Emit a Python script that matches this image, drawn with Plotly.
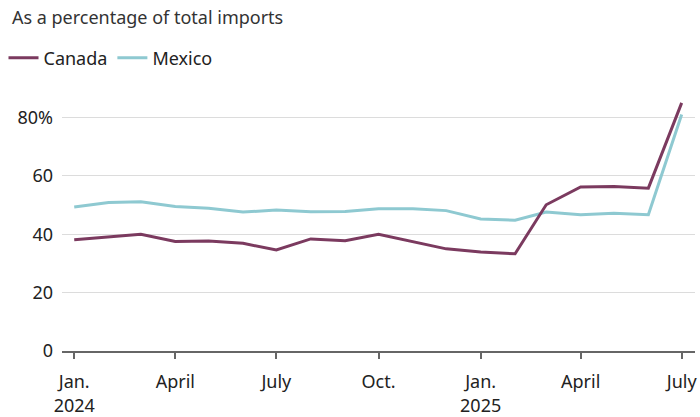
import plotly.graph_objects as go

months = ["2024-01-01","2024-02-01","2024-03-01","2024-04-01","2024-05-01","2024-06-01",
          "2024-07-01","2024-08-01","2024-09-01","2024-10-01","2024-11-01","2024-12-01",
          "2025-01-01","2025-02-01","2025-03-01","2025-04-01","2025-05-01","2025-06-01",
          "2025-07-01"]
canada = [38.1, 39.2, 40.0, 37.5, 37.7, 36.9, 34.6, 38.4, 37.8, 40.0, 37.5, 35.0,
          33.9, 33.3, 50.1, 56.2, 56.4, 55.8, 85.0]
mexico = [49.3, 50.9, 51.1, 49.5, 48.9, 47.6, 48.3, 47.7, 47.8, 48.7, 48.7, 48.1,
          45.2, 44.8, 47.6, 46.7, 47.2, 46.7, 81.0]

xtick_vals = ["2024-01-01","2024-04-01","2024-07-01","2024-10-01","2025-01-01","2025-04-01","2025-07-01"]
xtick_text = ["Jan.<br>2024","April","July","Oct.","Jan.<br>2025","April","July"]
ytick_vals = [0, 20, 40, 60, 80]
ytick_text = ["0", "20", "40", "60", "80%"]

FONT = "Noto Sans"
fig = go.Figure()
fig.add_trace(go.Scatter(x=months, y=mexico, name="Mexico", mode="lines",
                         line=dict(color="#8ec9d1", width=3)))
fig.add_trace(go.Scatter(x=months, y=canada, name="Canada", mode="lines",
                         line=dict(color="#7b3a5f", width=3)))

fig.update_layout(
    width=700, height=417,
    margin=dict(l=62, r=5, t=100, b=66, autoexpand=False),
    paper_bgcolor="white", plot_bgcolor="white",
    font=dict(family=FONT, size=18, color="#222"),
    title=dict(text="As a percentage of total imports", x=0.017, xref="container",
               y=0.958, yref="container", xanchor="left", yanchor="middle",
               font=dict(size=18, color="#333", family=FONT)),
    legend=dict(orientation="h", x=0.005, xref="container", y=0.861, yref="container",
                xanchor="left", yanchor="middle", traceorder="reversed",
                font=dict(size=18, color="#222"), itemwidth=30),
    showlegend=True,
)
fig.update_xaxes(type="date", range=["2023-12-21", "2025-07-13"],
                 tickvals=xtick_vals, ticktext=xtick_text, automargin=False,
                 showgrid=False, showline=True, linecolor="#666", linewidth=1.5,
                 ticks="outside", ticklen=6, tickcolor="#666", tickwidth=1.5,
                 ticklabelstandoff=8, ticklabeloverflow="allow",
                 tickfont=dict(size=18, color="#222"), zeroline=False)
fig.update_yaxes(range=[0, 86], tickvals=ytick_vals, ticktext=ytick_text,
                 showgrid=True, gridcolor="#dcdcdc", gridwidth=1, automargin=False,
                 zeroline=False, showline=False, ticks="",
                 ticklabelstandoff=8,
                 tickfont=dict(size=18, color="#222"))

fig.write_html("out.html", config={"displayModeBar": False},
               post_script="document.body.style.margin='0';")
